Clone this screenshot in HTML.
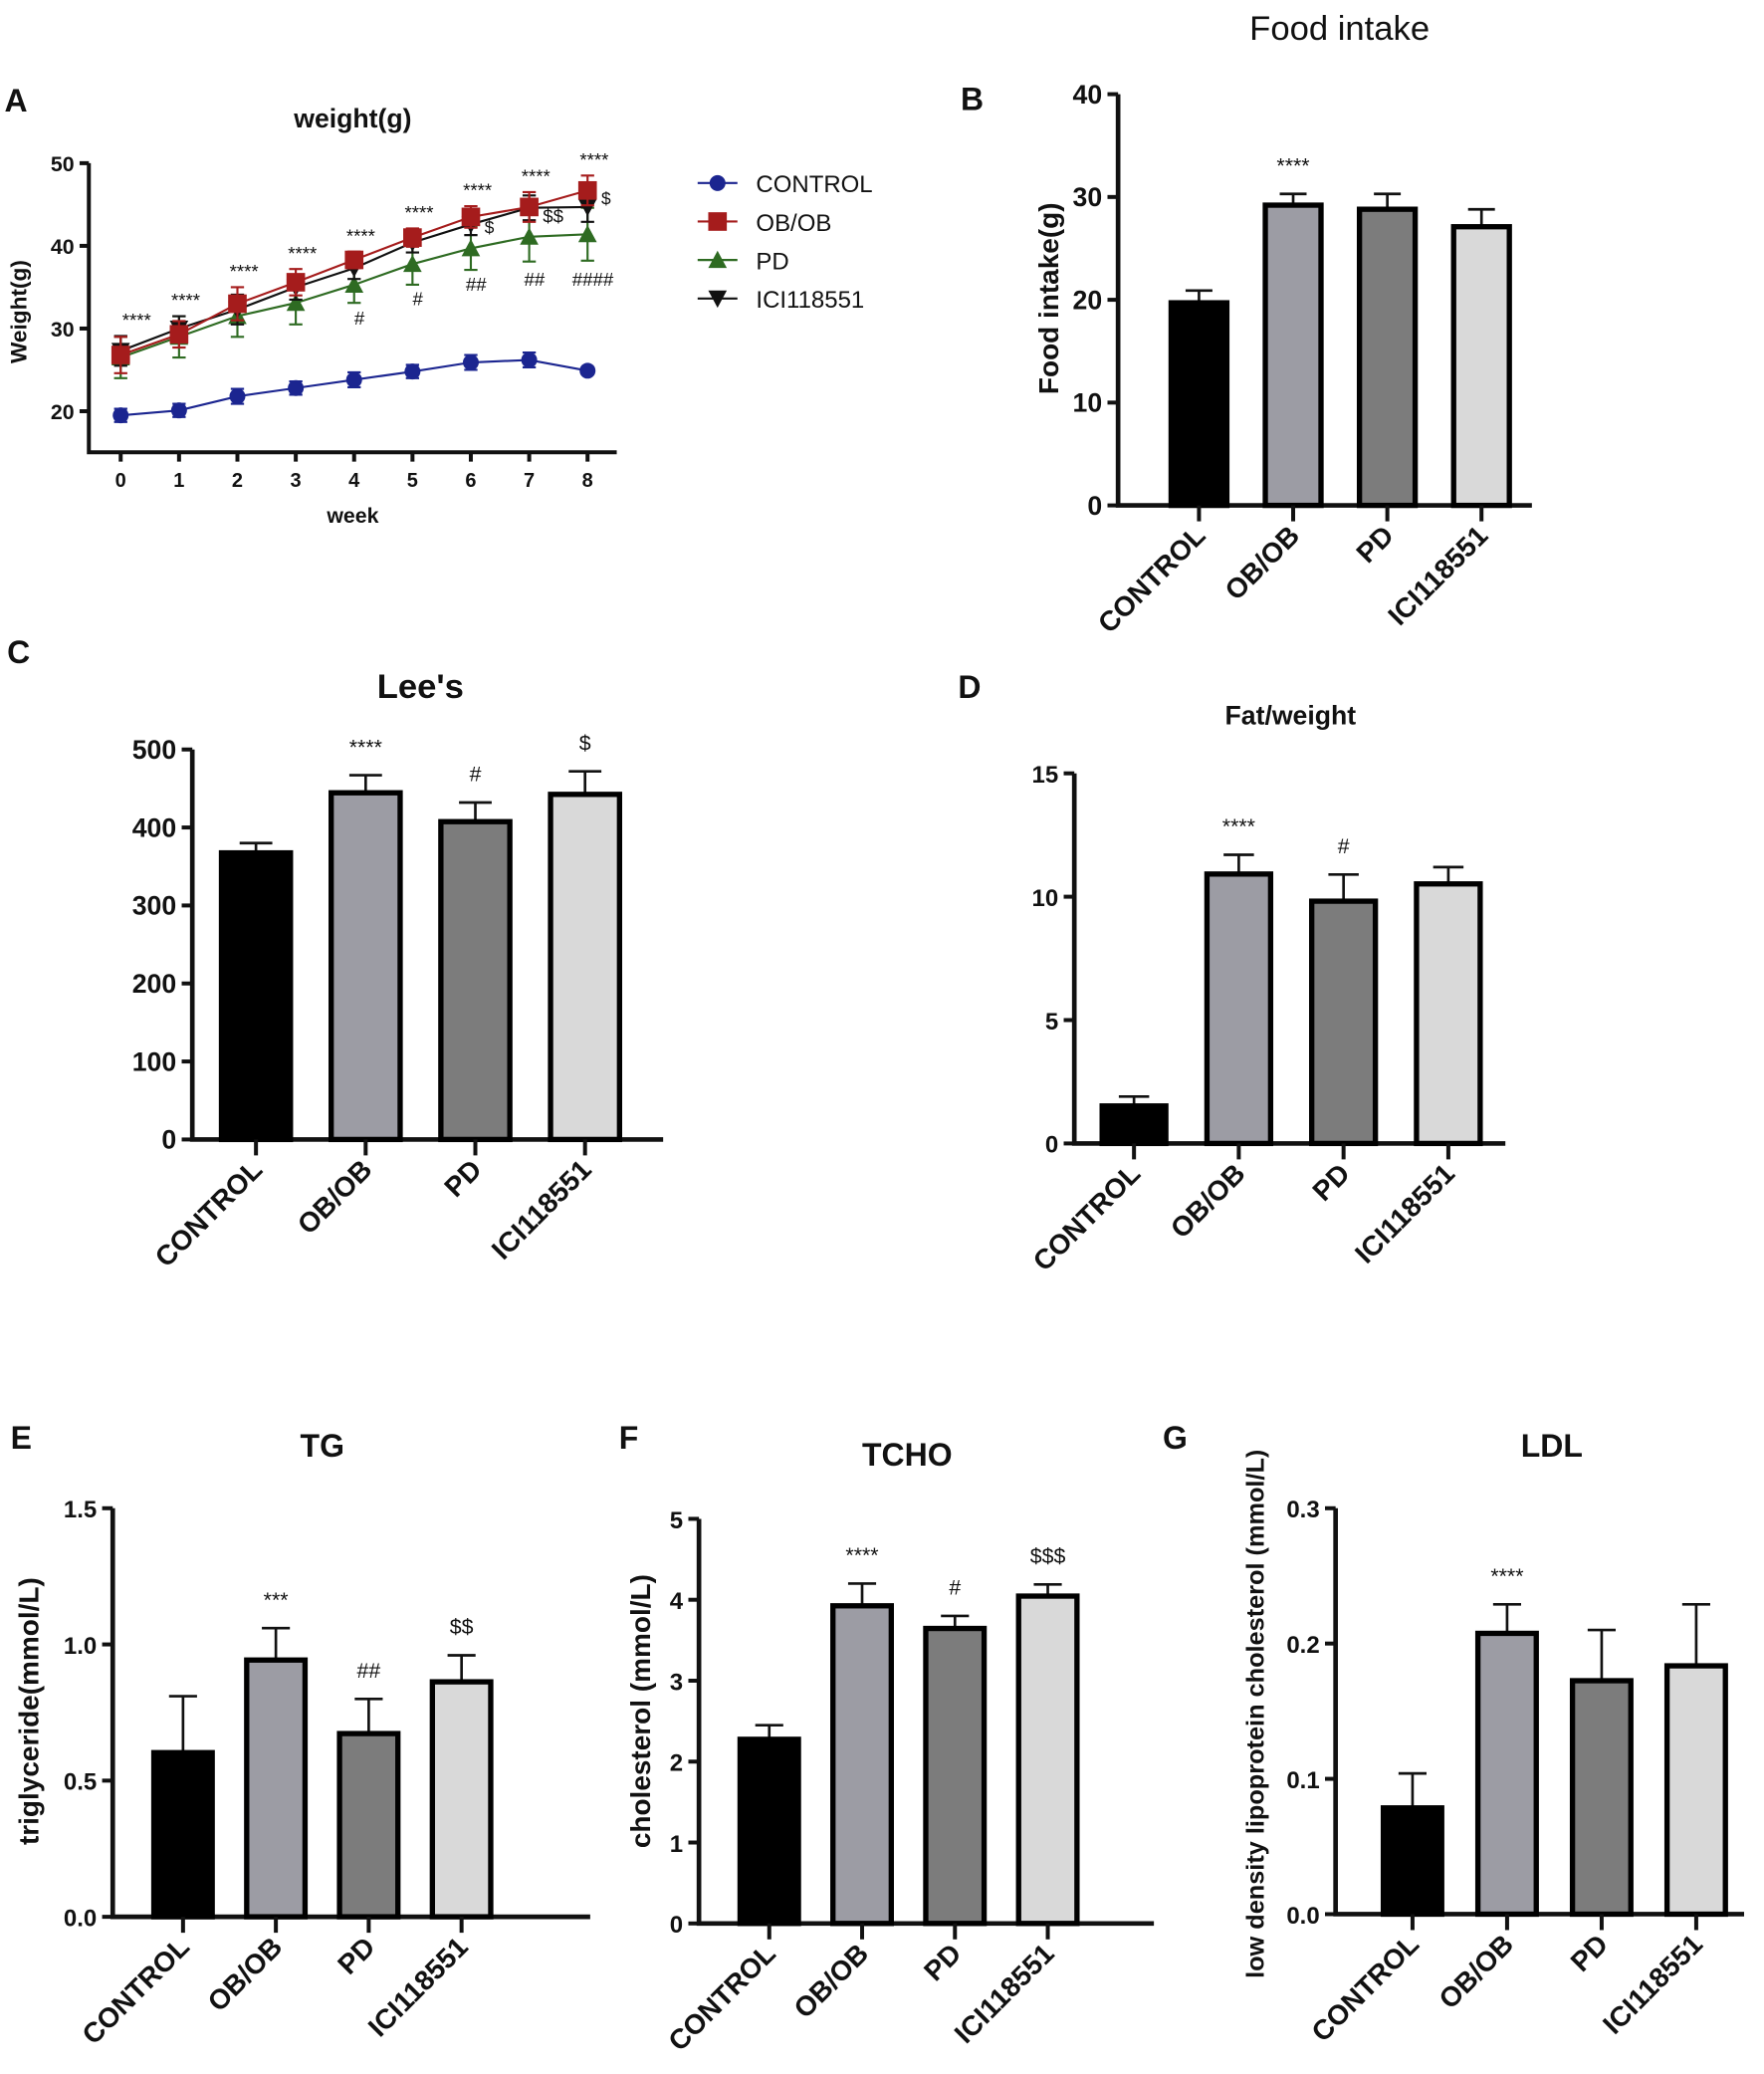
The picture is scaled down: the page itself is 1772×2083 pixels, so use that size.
<!DOCTYPE html>
<html><head><meta charset="utf-8"><style>
html,body{margin:0;padding:0;background:#fff}
svg{display:block;font-family:"Liberation Sans",Arial,sans-serif}
</style></head><body>
<svg id="fig" width="1772" height="2083" viewBox="0 0 1330 1563.5" preserveAspectRatio="none" xmlns="http://www.w3.org/2000/svg"></svg>
<script>
// ---- Panel A data ----
const weeks = [0,1,2,3,4,5,6,7,8];
const ctrlW = [19.5,20.1,21.8,22.8,23.8,24.8,25.9,26.2,24.9];
const ctrlE = [0.8,0.8,0.9,0.8,0.9,0.8,0.9,0.9,0.4];
const obW = [26.8,29.3,33.0,35.6,38.3,41.0,43.5,44.7,46.7];
const obE = [2.2,1.6,2.0,1.6,1.0,1.1,1.3,1.8,1.8];
const pdW = [26.5,29.0,31.5,33.1,35.3,37.8,39.7,41.1,41.4];
const pdE = [2.5,2.5,2.5,2.6,2.2,2.5,2.6,3.0,3.2];
const iciW = [27.3,30.0,32.3,35.0,37.3,40.4,42.6,44.6,44.7];
const iciE = [1.8,1.5,1.8,1.5,1.3,1.2,1.3,1.5,1.8];
const aTicks = [20,30,40,50];
const aStars = ["****","****","****","****","****","****","****","****","****"];
// ---- Bar panels ----
const groups = ["CONTROL","OB/OB","PD","ICI118551"];
const foodVals = [19.9,29.4,29.0,27.3];
const foodErr = [1.0,0.9,1.3,1.5];
const foodTicks = [0,10,20,30,40];
const foodAnn = ["","****","",""];
const leeVals = [370,447,410,445];
const leeErr = [10,20,22,27];
const leeTicks = [0,100,200,300,400,500];
const leeAnn = ["","****","#","$"];
const fatVals = [1.6,11.0,9.9,10.6];
const fatErr = [0.3,0.7,1.0,0.6];
const fatTicks = [0,5,10,15];
const fatAnn = ["","****","#",""];
const tgVals = [0.61,0.95,0.68,0.87];
const tgErr = [0.2,0.11,0.12,0.09];
const tgTicks = [0.0,0.5,1.0,1.5];
const tgTickLabels = ["0.0","0.5","1.0","1.5"];
const tgAnn = ["","***","##","$$"];
const tchoVals = [2.3,3.95,3.67,4.07];
const tchoErr = [0.15,0.25,0.13,0.12];
const tchoTicks = [0,1,2,3,4,5];
const tchoAnn = ["","****","#","$$$"];
const ldlVals = [0.08,0.209,0.174,0.185];
const ldlErr = [0.024,0.02,0.036,0.044];
const ldlTicks = [0,0.1,0.2,0.3];
const ldlTickLabels = ["0.0","0.1","0.2","0.3"];
const ldlAnn = ["","****","",""];
const barFill = ["#000000","#9c9ca4","#7c7c7c","#d9d9d9"];

const svg = document.getElementById('fig');
const NS = "http://www.w3.org/2000/svg";
function mk(tag, attrs, name, parent){
  const e = document.createElementNS(NS, tag);
  for (const k in attrs) e.setAttribute(k, attrs[k]);
  
  
  (parent||svg).appendChild(e);
  return e;
}
function txt(x,y,s,size,name,opts){
  opts = opts||{};
  const t = mk('text',{x:x,y:y,'font-size':size,'font-weight':opts.w||'bold','text-anchor':opts.a||'middle',fill:'#111'},name,opts.p);
  if (opts.rot!==undefined) t.setAttribute('transform','rotate('+opts.rot+' '+x+' '+y+')');
  t.textContent = s;
  return t;
}

// ---------- Panel A ----------
(function(){
  const g = mk('g',{},'panel-a-weight-chart');
  const x0=67, yTop=123, yBot=341;
  const ys = v => 310 - (v-20)*6.233;
  const xs = w => 91 + w*44;
  txt(12,84,'A',24,'panel-label-a',{p:g});
  txt(266,96,'weight(g)',20,'chart-title-weight',{p:g});
  mk('path',{d:`M${x0} ${yTop}V${yBot}H465`,stroke:'#111','stroke-width':3,fill:'none'},'axes-a',g);
  aTicks.forEach(t=>{
    mk('line',{x1:x0-7,x2:x0,y1:ys(t),y2:ys(t),stroke:'#111','stroke-width':3},'y-tick-a',g);
    txt(x0-11,ys(t)+6,String(t),16,'y-tick-label-a',{a:'end',p:g});
  });
  weeks.forEach(w=>{
    mk('line',{x1:xs(w),x2:xs(w),y1:yBot,y2:yBot+7,stroke:'#111','stroke-width':3},'x-tick-a',g);
    txt(xs(w),yBot+26,String(w),15,'x-tick-label-a',{p:g});
  });
  txt(266,394,'week',16,'x-axis-title-a',{p:g});
  txt(20,235,'Weight(g)',17,'y-axis-title-a',{rot:-90,p:g});
  const series = [
    {v:pdW,e:pdE,c:'#2e6b22',m:'tri',n:'pd'},
    {v:iciW,e:iciE,c:'#111',m:'itri',n:'ici118551'},
    {v:obW,e:obE,c:'#a51c1c',m:'sq',n:'ob-ob'},
    {v:ctrlW,e:ctrlE,c:'#1b2590',m:'circ',n:'control'}
  ];
  function marker(m,x,y,c,name,p){
    if(m==='circ') return mk('circle',{cx:x,cy:y,r:6,fill:c},name,p);
    if(m==='sq') return mk('rect',{x:x-7,y:y-7,width:14,height:14,fill:c},name,p);
    if(m==='tri') return mk('path',{d:`M${x} ${y-7}L${x+7} ${y+6}L${x-7} ${y+6}Z`,fill:c},name,p);
    return mk('path',{d:`M${x} ${y+7}L${x+7} ${y-6}L${x-7} ${y-6}Z`,fill:c},name,p);
  }
  series.forEach(s=>{
    const sg = mk('g',{},'series-'+s.n,g);
    let d='';
    s.v.forEach((v,i)=>{ d+=(i?'L':'M')+xs(weeks[i])+' '+ys(v); });
    mk('path',{d:d,stroke:s.c,'stroke-width':1.6,fill:'none'},'line-'+s.n,sg);
    s.v.forEach((v,i)=>{
      const x=xs(weeks[i]);
      mk('path',{d:`M${x} ${ys(v+s.e[i])}V${ys(v-s.e[i])}M${x-5} ${ys(v+s.e[i])}H${x+5}M${x-5} ${ys(v-s.e[i])}H${x+5}`,stroke:s.c,'stroke-width':1.6,fill:'none'},'error-bar-'+s.n,sg);
      marker(s.m,x,ys(v),s.c,'point-'+s.n,sg);
    });
  });
  weeks.forEach((w,i)=>{
    const top = Math.max(obW[i]+obE[i], iciW[i]+iciE[i]);
    txt(xs(w)+(i===0?12:5),ys(top)-7,aStars[i],14,'significance-a',{w:'normal',p:g});
  });
  const hashes=[["",0],["",0],["",0],["",0],["#",30.5],["#",32.8],["##",34.6],["##",35.2],["####",35.2]];
  hashes.forEach((h,i)=>{ if(h[0]) txt(xs(i)+4,ys(h[1]),h[0],14,'hash-annotation-a',{w:'normal',p:g}); });
  txt(xs(6)+14,ys(41.5),'$',13,'dollar-annotation-a',{w:'normal',p:g});
  txt(xs(7)+18,ys(42.8),'$$',14,'dollar-annotation-a',{w:'normal',p:g});
  txt(xs(8)+14,ys(45),'$',13,'dollar-annotation-a',{w:'normal',p:g});
  const leg=[['CONTROL','#1b2590','circ'],['OB/OB','#a51c1c','sq'],['PD','#2e6b22','tri'],['ICI118551','#111','itri']];
  leg.forEach((l,i)=>{
    const y=138+i*29;
    const lg = mk('g',{},'legend-entry-'+l[0].toLowerCase().replace('/','-'),g);
    mk('line',{x1:526,x2:556,y1:y,y2:y,stroke:l[1],'stroke-width':1.6},'legend-line',lg);
    marker(l[2],541,y,l[1],'legend-marker',lg);
    txt(570,y+7,l[0],18,'legend-label',{a:'start',w:'normal',p:lg});
  });
})();

// ---------- Bar panel builder ----------
function barPanel(o){
  const g = mk('g',{},o.name);
  const ys = v => o.y0 - (v/o.max)*(o.y0-o.yTop);
  mk('path',{d:`M${o.x0} ${o.yTop}V${o.y0}H${o.xEnd}`,stroke:'#111','stroke-width':3.5,fill:'none'},'axes',g);
  o.ticks.forEach((t,i)=>{
    mk('line',{x1:o.x0-8,x2:o.x0,y1:ys(t),y2:ys(t),stroke:'#111','stroke-width':3},'y-tick',g);
    txt(o.x0-12,ys(t)+7,o.tickLabels?o.tickLabels[i]:String(t),o.tfs||19,'y-tick-label',{a:'end',p:g});
  });
  groups.forEach((c,i)=>{
    const cx=o.cx0+i*o.step, v=o.vals[i], e=o.err[i];
    const bn = 'bar-'+c.toLowerCase().replace('/','-');
    mk('line',{x1:cx,x2:cx,y1:ys(v),y2:ys(v+e),stroke:'#111','stroke-width':2},'error-bar',g);
    mk('line',{x1:cx-o.bw*0.22,x2:cx+o.bw*0.22,y1:ys(v+e),y2:ys(v+e),stroke:'#111','stroke-width':2},'error-cap',g);
    mk('rect',{x:cx-o.bw/2+2,y:ys(v)+1.5,width:o.bw-4,height:Math.max(0,o.y0-ys(v)-1.5),fill:barFill[i],stroke:'#000','stroke-width':4},bn,g);
    mk('line',{x1:cx,x2:cx,y1:o.y0,y2:o.y0+12,stroke:'#111','stroke-width':3},'x-tick',g);
    const lx=cx+6, ly=o.y0+24;
    txt(lx,ly,c,o.cfs||21,'x-tick-label',{a:'end',rot:-45,p:g});
    if(o.ann[i]) txt(cx,ys(v+e)-16,o.ann[i],16,'significance-label',{w:'normal',p:g});
  });
  txt(o.lx,o.ly,o.letter,24,'panel-label',{p:g});
  txt(o.tx,o.ty,o.title,o.titleSize||24,'chart-title',{w:o.titleW||'bold',p:g});
  txt(o.yx,o.yy,o.ylabel,o.ylfs||21,'y-axis-title',{rot:-90,p:g});
}

barPanel({name:'panel-b-food-intake',x0:843,yTop:71,y0:381,xEnd:1155,max:40,ticks:foodTicks,cx0:904,step:71,bw:46,vals:foodVals,err:foodErr,ann:foodAnn,letter:'B',lx:733,ly:83,title:'Food intake',tx:1010,ty:30,titleW:'normal',titleSize:26,ylabel:'Food intake(g)',yx:798,yy:225,tfs:20});
barPanel({name:'panel-c-lees-index',x0:145,yTop:565,y0:859,xEnd:500,max:500,ticks:leeTicks,cx0:193,step:82.7,bw:56,vals:leeVals,err:leeErr,ann:leeAnn,letter:'C',lx:14,ly:500,title:"Lee's",tx:317,ty:526,titleSize:26,ylabel:'',yx:0,yy:0,tfs:20});
barPanel({name:'panel-d-fat-weight',x0:810,yTop:583,y0:862,xEnd:1135,max:15,ticks:fatTicks,cx0:855,step:79,bw:52,vals:fatVals,err:fatErr,ann:fatAnn,letter:'D',lx:731,ly:526,title:'Fat/weight',tx:973,ty:546,titleSize:20,ylabel:'',yx:0,yy:0,tfs:18});
barPanel({name:'panel-e-tg',x0:85,yTop:1137,y0:1445,xEnd:445,max:1.5,ticks:tgTicks,tickLabels:tgTickLabels,cx0:138,step:70,bw:48,vals:tgVals,err:tgErr,ann:tgAnn,letter:'E',lx:16,ly:1092,title:'TG',tx:243,ty:1098,ylabel:'triglyceride(mmol/L)',yx:29,yy:1290,tfs:18});
barPanel({name:'panel-f-tcho',x0:527,yTop:1145,y0:1450,xEnd:870,max:5,ticks:tchoTicks,cx0:580,step:70,bw:48,vals:tchoVals,err:tchoErr,ann:tchoAnn,letter:'F',lx:474,ly:1092,title:'TCHO',tx:684,ty:1105,ylabel:'cholesterol (mmol/L)',yx:490,yy:1290,tfs:18});
barPanel({name:'panel-g-ldl',x0:1007,yTop:1137,y0:1443,xEnd:1315,max:0.3,ticks:ldlTicks,tickLabels:ldlTickLabels,cx0:1065,step:71.3,bw:48,vals:ldlVals,err:ldlErr,ann:ldlAnn,letter:'G',lx:886,ly:1092,title:'LDL',tx:1170,ty:1098,ylabel:'low density lipoprotein cholesterol (mmol/L)',yx:953,yy:1292,ylfs:19,tfs:18});
</script>
</body></html>
